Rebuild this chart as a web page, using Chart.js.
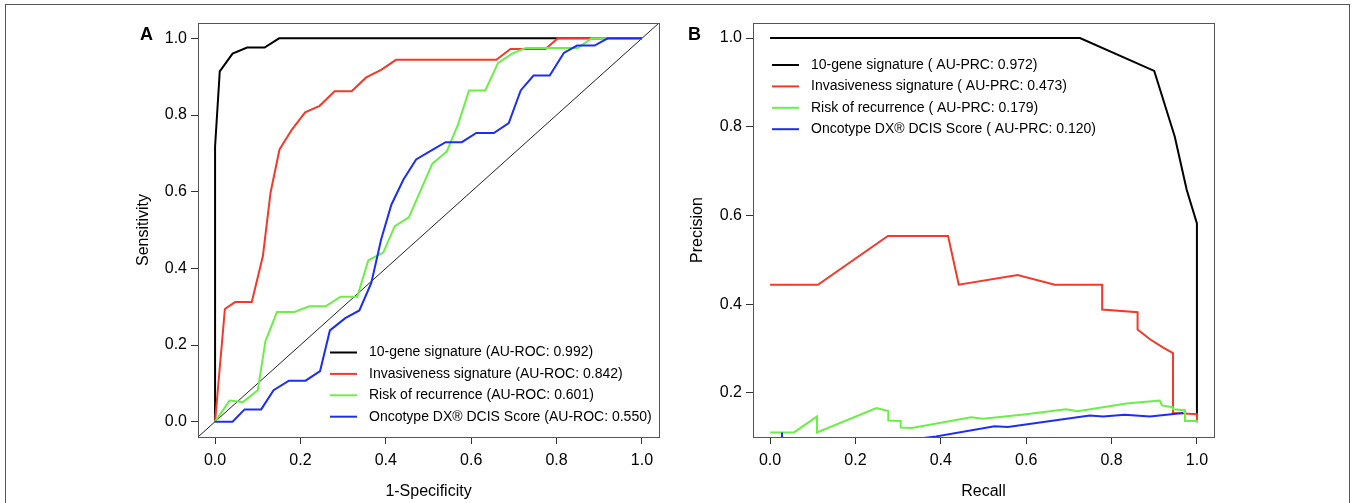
<!DOCTYPE html>
<html><head><meta charset="utf-8">
<script src="https://cdn.jsdelivr.net/npm/chart.js@4/dist/chart.umd.min.js"></script>
<style>
html,body{margin:0;padding:0;background:#fff;}
body{width:1354px;height:503px;position:relative;overflow:hidden;}
#frame{position:absolute;left:5px;top:4px;width:1345px;height:530px;border:1px solid #555;box-sizing:border-box;}
#ca{position:absolute;left:0;top:0;}
#cb{position:absolute;left:670px;top:0;}
</style></head><body>
<div id="frame"></div>
<canvas id="ca" width="670" height="503"></canvas>
<canvas id="cb" width="684" height="503"></canvas>
<script>
// ---------- data ----------
const seriesNames = ['10-gene signature', 'Invasiveness signature', 'Risk of recurrence', 'Oncotype DX\u00AE DCIS Score'];
const rocAuc = ['0.992', '0.842', '0.601', '0.550'];
const prcAuc = ['0.972', '0.473', '0.179', '0.120'];

// ROC curves: [1-Specificity, Sensitivity]
const rocGene = [[0,0],[0,0.718],[0.011,0.914],[0.041,0.960],[0.075,0.976],[0.116,0.976],[0.150,1.0],[1,1]];
const rocInv = [[0,0],[0.023,0.294],[0.047,0.312],[0.086,0.312],[0.112,0.432],[0.130,0.598],[0.151,0.710],[0.180,0.762],[0.211,0.807],[0.245,0.824],[0.280,0.862],[0.320,0.862],[0.354,0.898],[0.389,0.918],[0.424,0.944],[0.659,0.944],[0.692,0.972],[0.774,0.972],[0.803,1.0],[1,1]];
const rocRisk = [[0,0],[0.034,0.055],[0.065,0.051],[0.100,0.082],[0.118,0.210],[0.145,0.286],[0.186,0.286],[0.221,0.301],[0.259,0.301],[0.294,0.326],[0.333,0.326],[0.359,0.421],[0.394,0.441],[0.421,0.510],[0.454,0.533],[0.509,0.673],[0.543,0.705],[0.569,0.775],[0.595,0.864],[0.633,0.864],[0.663,0.936],[0.696,0.960],[0.728,0.975],[0.850,0.975],[0.882,1.0],[1,1]];
const rocOnco = [[0,0],[0.041,0],[0.069,0.032],[0.108,0.032],[0.137,0.082],[0.173,0.107],[0.212,0.107],[0.246,0.132],[0.269,0.238],[0.305,0.270],[0.338,0.290],[0.366,0.362],[0.389,0.475],[0.413,0.566],[0.441,0.631],[0.471,0.684],[0.506,0.707],[0.540,0.729],[0.578,0.729],[0.612,0.753],[0.653,0.753],[0.688,0.779],[0.716,0.864],[0.746,0.903],[0.784,0.903],[0.817,0.962],[0.848,0.981],[0.889,0.981],[0.920,1.0],[1,1]];

// Precision-recall curves: [Recall, Precision]
const prGene = [[0,1],[0.726,1],[0.900,0.926],[0.948,0.778],[0.976,0.658],[1.0,0.582],[1.0,0.146]];
const prInv = [[0,0.444],[0.112,0.444],[0.276,0.554],[0.417,0.554],[0.442,0.444],[0.580,0.466],[0.667,0.444],[0.778,0.444],[0.778,0.388],[0.861,0.382],[0.861,0.343],[0.890,0.321],[0.921,0.302],[0.944,0.290],[0.944,0.155],[1.0,0.152],[1.0,0.137]];
const prRisk = [[0,0.111],[0.056,0.111],[0.110,0.147],[0.110,0.111],[0.249,0.166],[0.277,0.159],[0.277,0.138],[0.306,0.137],[0.306,0.122],[0.332,0.121],[0.471,0.145],[0.499,0.142],[0.600,0.152],[0.693,0.163],[0.721,0.159],[0.835,0.176],[0.913,0.183],[0.918,0.172],[0.943,0.168],[0.944,0.163],[0.972,0.161],[0.972,0.137],[1.0,0.137],[1.0,0.133]];
const prOnco = [[0.028,0.111],[0.028,0.072],[0.083,0.070],[0.194,0.082],[0.306,0.092],[0.389,0.102],[0.526,0.125],[0.557,0.123],[0.749,0.149],[0.780,0.147],[0.831,0.151],[0.890,0.147],[0.968,0.155]];

// axes
const rocTicks = [0, 0.2, 0.4, 0.6, 0.8, 1.0];
const prXTicks = [0, 0.2, 0.4, 0.6, 0.8, 1.0];
const prYTicks = [0.2, 0.4, 0.6, 0.8, 1.0];
const rocRange = [-0.04, 1.04];
const prXRange = [-0.04, 1.04];
const prYRange = [0.1007, 1.034];

// ---------- styles ----------
const seriesColors = ['#000000', '#f23a2b', '#6cee48', '#1c2ef2'];
const FONT = '"Liberation Sans", Arial, Helvetica, sans-serif';
Chart.defaults.font.family = FONT;
Chart.defaults.color = '#000';

function pts(a) { return a.map(p => ({x: p[0], y: p[1]})); }

const rPlot = {
  id: 'rplot',
  afterDatasetsDraw(chart, args, o) {
    const {ctx, chartArea: a} = chart;
    ctx.save();
    ctx.strokeStyle = '#555'; ctx.lineWidth = 1;
    ctx.strokeRect(Math.round(a.left) + 0.5, Math.round(a.top) + 0.5, Math.round(a.right - a.left), Math.round(a.bottom - a.top));
    ctx.restore();
  },
  afterDraw(chart, args, o) {
    const ctx = chart.ctx;
    ctx.save();
    ctx.fillStyle = '#000';
    ctx.font = 'bold 18px ' + FONT;
    ctx.textBaseline = 'alphabetic';
    ctx.fillText(o.letter, o.letterX, o.letterY);
    ctx.font = '14px ' + FONT;
    ctx.textBaseline = 'middle';
    o.entries.forEach((e, i) => {
      const y = o.y0 + i * o.dy;
      ctx.strokeStyle = e.color; ctx.lineWidth = 2;
      ctx.beginPath(); ctx.moveTo(o.x1, y); ctx.lineTo(o.x2, y); ctx.stroke();
      ctx.fillText(e.text, o.tx, y);
    });
    ctx.restore();
  }
};

function xAxis(ticks, range, title, height) {
  return {
    type: 'linear', position: 'bottom', min: range[0], max: range[1],
    afterBuildTicks: s => { s.ticks = ticks.map(v => ({value: v})); },
    afterFit: s => { s.height = height; },
    grid: {display: true, drawOnChartArea: false, drawTicks: true, tickLength: 7, color: '#333', lineWidth: 1},
    border: {display: false},
    ticks: {callback: v => Number(v).toFixed(1), padding: 7, color: '#000', font: {size: 16}, maxRotation: 0, autoSkip: false},
    title: {display: true, text: title, color: '#000', font: {size: 16}, padding: {top: 0, bottom: 2}}
  };
}
function yAxis(ticks, range, title, width, titlePad) {
  return {
    type: 'linear', position: 'left', min: range[0], max: range[1],
    afterBuildTicks: s => { s.ticks = ticks.map(v => ({value: v})); },
    afterFit: s => { s.width = width; },
    grid: {display: true, drawOnChartArea: false, drawTicks: true, tickLength: 7, color: '#333', lineWidth: 1},
    border: {display: false},
    ticks: {callback: v => Number(v).toFixed(1), padding: 4, color: '#000', font: {size: 16}, autoSkip: false},
    title: {display: true, text: title, color: '#000', font: {size: 16}, padding: {top: titlePad, bottom: 0}}
  };
}
function ds(data, i, label) {
  return {label, data: pts(data), borderColor: seriesColors[i], borderWidth: 2, pointRadius: 0, tension: 0, fill: false, clip: 0, order: 4 - i};
}

const rocSets = [rocGene, rocInv, rocRisk, rocOnco];
const prSets = [prGene, prInv, prRisk, prOnco];

new Chart(document.getElementById('ca'), {
  type: 'line',
  data: {datasets: [
    ...rocSets.map((d, i) => ds(d, i, seriesNames[i])),
    {label: 'chance', data: pts([[rocRange[0], rocRange[0]], [rocRange[1], rocRange[1]]]), borderColor: '#222', borderWidth: 1, pointRadius: 0, clip: 0, order: 10}
  ]},
  options: {
    responsive: false, animation: false, devicePixelRatio: 1,
    layout: {padding: {left: 0, top: 23, right: 11, bottom: 0}},
    scales: {
      x: xAxis(rocTicks, rocRange, '1-Specificity', 66),
      y: yAxis(rocTicks, rocRange, 'Sensitivity', 198, 134)
    },
    plugins: {
      legend: {display: false}, tooltip: {enabled: false},
      rplot: {letter: 'A', letterX: 140, letterY: 40, x1: 330, x2: 357, tx: 369, y0: 352.5, dy: 21.4,
        entries: seriesNames.map((n, i) => ({text: n + ' (AU-ROC: ' + rocAuc[i] + ')', color: seriesColors[i]}))}
    }
  },
  plugins: [rPlot]
});

new Chart(document.getElementById('cb'), {
  type: 'line',
  data: {datasets: prSets.map((d, i) => ds(d, i, seriesNames[i]))},
  options: {
    responsive: false, animation: false, devicePixelRatio: 1,
    layout: {padding: {left: 0, top: 23, right: 140, bottom: 0}},
    scales: {
      x: xAxis(prXTicks, prXRange, 'Recall', 66),
      y: yAxis(prYTicks, prYRange, 'Precision', 83, 18)
    },
    plugins: {
      legend: {display: false}, tooltip: {enabled: false},
      rplot: {letter: 'B', letterX: 18, letterY: 40, x1: 102, x2: 129, tx: 141, y0: 65, dy: 21.4,
        entries: seriesNames.map((n, i) => ({text: n + ' ( AU-PRC: ' + prcAuc[i] + ')', color: seriesColors[i]}))}
    }
  },
  plugins: [rPlot]
});
</script></body></html>
